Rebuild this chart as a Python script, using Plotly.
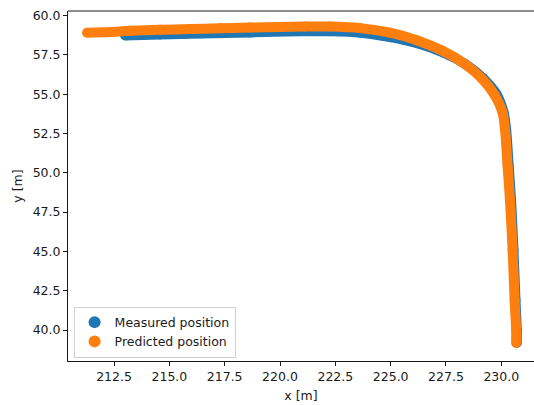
import plotly.graph_objects as go

# Measured trajectory (x, y in metres)
measured_x = [213.00, 214.58, 216.39, 218.65, 220.90, 222.26, 223.64, 224.97, 226.24,
              227.37, 228.36, 229.17, 229.78, 230.10, 230.22, 230.33, 230.44, 230.55,
              230.64, 230.70, 230.70]
measured_y = [58.73, 58.79, 58.86, 58.93, 59.00, 59.00, 58.91, 58.63, 58.22,
              57.65, 56.92, 56.03, 55.01, 53.86, 52.72, 50.49, 48.27, 45.09,
              41.91, 40.00, 39.17]

# Predicted trajectory (x, y in metres)
predicted_x = [211.28, 212.32, 213.22, 214.58, 215.93, 217.29, 218.65, 220.00, 221.13,
               222.26, 223.63, 224.97, 226.21, 227.34, 228.32, 229.11, 229.69, 230.05,
               230.17, 230.28, 230.39, 230.51, 230.60, 230.67, 230.67]
predicted_y = [58.91, 58.96, 59.03, 59.09, 59.14, 59.19, 59.24, 59.27, 59.30,
               59.30, 59.20, 58.91, 58.42, 57.76, 56.95, 56.01, 54.97, 53.86,
               52.72, 50.49, 48.27, 45.09, 41.91, 40.00, 39.17]

x_ticks = [212.5, 215.0, 217.5, 220.0, 222.5, 225.0, 227.5, 230.0]
y_ticks = [40.0, 42.5, 45.0, 47.5, 50.0, 52.5, 55.0, 57.5, 60.0]

BLUE = "#1f77b4"
ORANGE = "#ff7f0e"
INK = "#1a1a1a"
FONT = "DejaVu Sans"
DOT = 10

fig = go.Figure()

for xs, ys, color, name in [
    (measured_x, measured_y, BLUE, "Measured position"),
    (predicted_x, predicted_y, ORANGE, "Predicted position"),
]:
    # dense point track rendered as a continuous band of dots
    fig.add_trace(go.Scatter(
        x=xs, y=ys, mode="lines", showlegend=False, hoverinfo="skip",
        line=dict(color=color, width=DOT, shape="spline", smoothing=0.8),
    ))
    fig.add_trace(go.Scatter(
        x=xs, y=ys, mode="markers", name=name,
        marker=dict(color=color, size=DOT),
    ))

axis_common = dict(
    showgrid=False, zeroline=False, showline=True, linecolor=INK, linewidth=1,
    ticks="outside", ticklen=4, tickwidth=1, tickcolor=INK,
    tickfont=dict(family=FONT, size=12.5, color=INK),
    mirror=False,
)

fig.update_layout(
    width=534, height=405,
    margin=dict(l=68, r=0, t=11, b=44),
    paper_bgcolor="white", plot_bgcolor="white",
    font=dict(family=FONT, size=12.5, color=INK),
    xaxis=dict(range=[210.42, 231.477], tickvals=x_ticks,
               ticktext=[f"{v:.1f}" for v in x_ticks],
               title=dict(text="x [m]", standoff=8,
                          font=dict(family=FONT, size=12.5, color=INK)),
               **axis_common),
    yaxis=dict(range=[38.03, 60.29], tickvals=y_ticks,
               ticktext=[f"{v:.1f}" for v in y_ticks],
               title=dict(text="y [m]", standoff=7,
                          font=dict(family=FONT, size=12.5, color=INK)),
               **axis_common),
    legend=dict(
        x=0.012, y=0.01, xanchor="left", yanchor="bottom",
        bgcolor="rgba(255,255,255,0.8)", bordercolor="#d0d0d0", borderwidth=1,
        font=dict(family=FONT, size=12.5, color=INK),
        itemsizing="constant",
    ),
    shapes=[dict(type="line", xref="paper", yref="paper", x0=0, x1=1, y0=1, y1=1,
                 line=dict(color=INK, width=1))],
)

fig.write_html("out.html")
